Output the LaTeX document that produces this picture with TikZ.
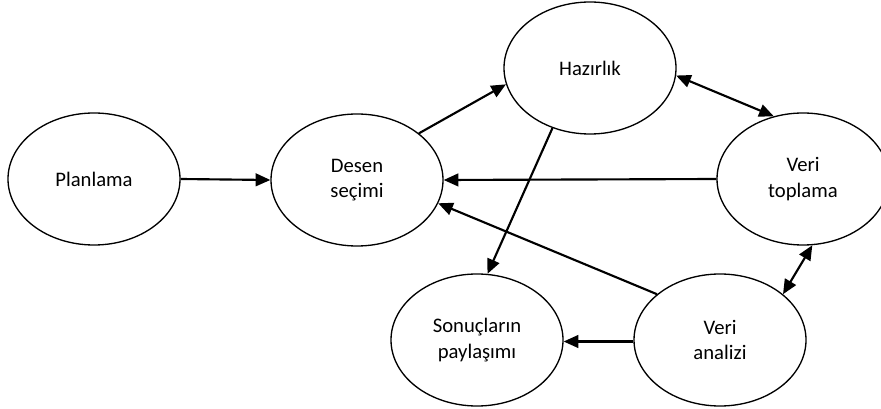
\documentclass[tikz,border=0pt]{standalone}
\usepackage{fontspec}
\setmainfont{Carlito}
\usetikzlibrary{arrows.meta,shapes.geometric}
\begin{document}
\begin{tikzpicture}[x=0.75pt,y=-0.75pt,
  stage/.style={draw,ellipse,line width=1pt,minimum width=129pt,minimum height=99pt,
    inner sep=0pt,align=center,font=\fontsize{15.5}{19}\selectfont},
  tip/.style={Triangle[length=11pt,width=9.5pt]},
  flow/.style={line width=1.6pt,-{Triangle[length=11pt,width=9.5pt]}},
  twoway/.style={line width=1.6pt,{Triangle[length=11pt,width=9.5pt]}-{Triangle[length=11pt,width=9.5pt]}}]
  \useasboundingbox (0,0) rectangle (881,409);
  % process stages
  \node[stage] (plan)    at (94,179)  {Planlama};
  \node[stage] (desen)   at (357,180) {Desen\\seçimi};
  \node[stage] (hazir)   at (590,68)  {Hazırlık};
  \node[stage] (veritop) at (803,179) {Veri\\toplama};
  \node[stage] (sonuc)   at (477,340) {Sonuçların\\paylaşımı};
  \node[stage] (analiz)  at (720,340) {Veri\\analizi};
  % connections
  \draw[flow] (plan.east) -- (desen.west);
  \draw[flow] (desen.37) -- (hazir.191);
  \draw[twoway] (hazir.-5) -- (veritop.115);
  \draw[flow] (veritop.west) -- (desen.east);
  \draw[flow] (analiz.144) -- (desen.-16);
  \draw[flow] (hazir.238) -- (sonuc.81);
  \draw[twoway] (veritop.278) -- (analiz.36);
  \draw[flow] (analiz.181) -- (sonuc.-1);
\end{tikzpicture}
\end{document}
